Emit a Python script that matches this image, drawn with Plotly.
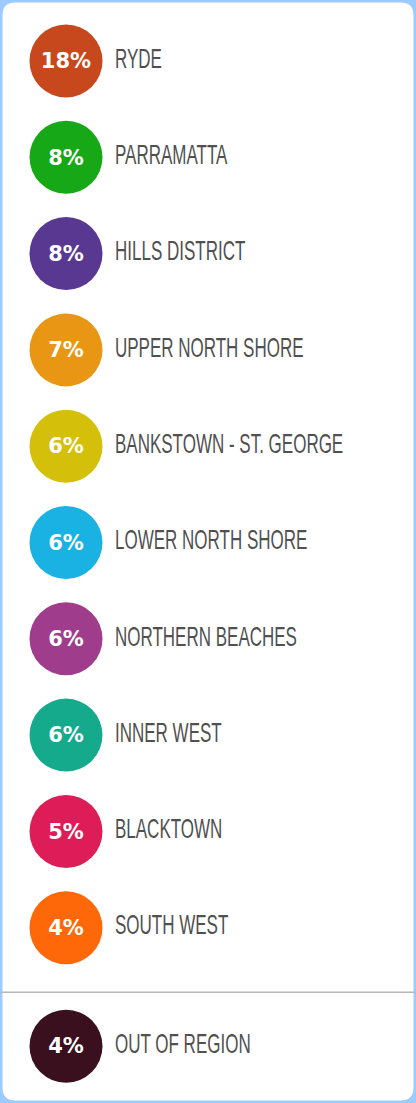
import plotly.graph_objects as go

regions = ["RYDE", "PARRAMATTA", "HILLS DISTRICT", "UPPER NORTH SHORE",
           "BANKSTOWN - ST. GEORGE", "LOWER NORTH SHORE", "NORTHERN BEACHES",
           "INNER WEST", "BLACKTOWN", "SOUTH WEST", "OUT OF REGION"]
shares = [18, 8, 8, 7, 6, 6, 6, 6, 5, 4, 4]
colors = ["#c8481e", "#16a816", "#583891", "#e89614", "#d4c00a", "#1ab2e2",
          "#a03c8c", "#16aa8c", "#de1c58", "#ff6808", "#3a101e"]

W, H = 416, 1103
# layout: row positions (last row is separated below a rule)
row_pos = [i for i in range(len(regions) - 1)] + [10.23]
sep_pos = 9.67
y_top, y_bot = -0.633, 10.82

fig = go.Figure()

fig.add_trace(go.Scatter(
    x=[66] * len(regions), y=row_pos,
    mode="markers+text",
    marker=dict(size=73, color=colors, line=dict(width=0)),
    text=[f"<b>{v}%</b>" for v in shares],
    textposition="middle center",
    textfont=dict(family="DejaVu Sans", size=21, color="white"),
    hoverinfo="skip", showlegend=False,
))

fig.add_trace(go.Scatter(
    x=[115] * len(regions), y=row_pos,
    mode="text",
    text=regions,
    textposition="middle right",
    textfont=dict(family="Liberation Sans, Arial, sans-serif", size=27, color="#505050"),
    hoverinfo="skip", showlegend=False,
))

# rounded white panel with light-blue border
r = 14
bw = 1.5
def px(x): return x / W
def py(y): return 1 - y / H
x0, x1, y0, y1 = bw, W - bw, bw, H - bw
path = (f"M {px(x0 + r)} {py(y0)} L {px(x1 - r)} {py(y0)} "
        f"Q {px(x1)} {py(y0)} {px(x1)} {py(y0 + r)} "
        f"L {px(x1)} {py(y1 - r)} Q {px(x1)} {py(y1)} {px(x1 - r)} {py(y1)} "
        f"L {px(x0 + r)} {py(y1)} Q {px(x0)} {py(y1)} {px(x0)} {py(y1 - r)} "
        f"L {px(x0)} {py(y0 + r)} Q {px(x0)} {py(y0)} {px(x0 + r)} {py(y0)} Z")
fig.add_shape(type="path", path=path, xref="paper", yref="paper",
              fillcolor="white", line=dict(color="#9ccbff", width=2), layer="below")

fig.add_shape(type="line", xref="paper", yref="y", x0=0, x1=1, y0=sep_pos, y1=sep_pos,
              line=dict(color="#b8b8b8", width=1.5), layer="below")

fig.update_layout(
    width=W, height=H,
    margin=dict(l=0, r=0, t=0, b=0),
    paper_bgcolor="#9ccbff",
    plot_bgcolor="rgba(0,0,0,0)",
    xaxis=dict(range=[0, W], visible=False, fixedrange=True),
    yaxis=dict(range=[y_bot, y_top], visible=False, fixedrange=True),
)

post_js = """
document.body.style.margin = '0';
document.body.style.overflow = 'hidden';
var gd = document.getElementById('{plot_id}');
function condense() {
  var traces = gd.querySelectorAll('.scatterlayer .trace');
  if (traces.length < 2) return;
  traces[0].querySelectorAll('text').forEach(function (t) {
    t.style.transform = 'translateY(2px)';
  });
  traces[1].querySelectorAll('text').forEach(function (t) {
    t.style.transformBox = 'fill-box';
    t.style.transformOrigin = '0% 50%';
    t.style.transform = 'scaleX(0.63)';
  });
}
condense();
if (gd.on) { gd.on('plotly_afterplot', condense); }
"""

fig.write_html("out.html", post_script=post_js, config={"responsive": False, "displayModeBar": False})
